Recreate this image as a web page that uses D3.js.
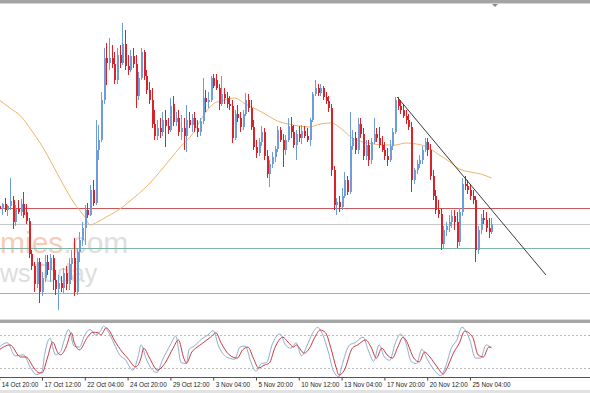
<!DOCTYPE html>
<html><head><meta charset="utf-8">
<script src="https://cdn.jsdelivr.net/npm/d3@7"></script>
<style>html,body{margin:0;padding:0;background:#fff;overflow:hidden}</style>
</head><body><svg id="c" width="590" height="393"></svg>
<script>
// ---- DATA (4H candles, bar index 0 = 14 Oct 20:00) ----
const open = [
1.1794,1.1791,1.1796,1.1790,1.1794,1.1800,1.1778,1.1791,1.1788,1.1796,
1.1788,1.1779,1.1746,1.1734,1.1716,1.1738,1.1708,1.1722,1.1738,1.1730,
1.1742,1.1720,1.1711,1.1717,1.1712,1.1727,1.1716,1.1736,1.1742,1.1708,
1.1748,1.1760,1.1772,1.1790,1.1785,1.1810,1.1797,1.1850,1.1860,1.1900,
1.1942,1.1937,1.1942,1.1936,1.1920,1.1945,1.1937,1.1956,1.1934,1.1930,
1.1944,1.1936,1.1904,1.1922,1.1948,1.1924,1.1910,1.1900,1.1876,1.1864,
1.1872,1.1868,1.1880,1.1874,1.1870,1.1896,1.1878,1.1882,1.1868,1.1872,
1.1864,1.1880,1.1875,1.1882,1.1872,1.1868,1.1879,1.1902,1.1898,1.1900,
1.1922,1.1920,1.1912,1.1896,1.1906,1.1902,1.1896,1.1894,1.1862,1.1886,
1.1882,1.1873,1.1886,1.1900,1.1892,1.1873,1.1853,1.1847,1.1858,1.1868,
1.1844,1.1826,1.1836,1.1843,1.1851,1.1870,1.1860,1.1850,1.1860,1.1874,
1.1868,1.1855,1.1866,1.1862,1.1869,1.1864,1.1860,1.1880,1.1906,1.1912,
1.1907,1.1912,1.1903,1.1899,1.1892,1.1830,1.1795,1.1798,1.1793,1.1804,
1.1820,1.1808,1.1854,1.1862,1.1850,1.1876,1.1866,1.1844,1.1855,1.1840,
1.1858,1.1866,1.1862,1.1855,1.1850,1.1844,1.1840,1.1854,1.1868,1.1900,
1.1894,1.1890,1.1884,1.1880,1.1873,1.1820,1.1830,1.1836,1.1840,1.1850,
1.1858,1.1850,1.1824,1.1804,1.1790,1.1786,1.1756,1.1770,1.1774,1.1778,
1.1784,1.1778,1.1758,1.1788,1.1816,1.1814,1.1810,1.1804,1.1800,1.1750,
1.1770,1.1782,1.1780,1.1772,1.1768];
const high = [
1.1800,1.1797,1.1802,1.1795,1.1822,1.1804,1.1795,1.1800,1.1801,1.1808,
1.1796,1.1782,1.1750,1.1738,1.1742,1.1742,1.1728,1.1745,1.1745,1.1746,
1.1745,1.1730,1.1725,1.1724,1.1732,1.1734,1.1742,1.1750,1.1762,1.1752,
1.1768,1.1778,1.1795,1.1797,1.1815,1.1820,1.1880,1.1875,1.1908,1.1952,
1.1957,1.1962,1.1955,1.1948,1.1952,1.1955,1.1977,1.1970,1.1945,1.1950,
1.1952,1.1945,1.1928,1.1952,1.1950,1.1930,1.1918,1.1912,1.1890,1.1880,
1.1882,1.1888,1.1890,1.1882,1.1902,1.1904,1.1888,1.1890,1.1885,1.1882,
1.1895,1.1888,1.1886,1.1888,1.1880,1.1882,1.1922,1.1910,1.1908,1.1924,
1.1926,1.1926,1.1916,1.1924,1.1912,1.1908,1.1904,1.1900,1.1890,1.1895,
1.1888,1.1890,1.1907,1.1906,1.1900,1.1880,1.1860,1.1862,1.1874,1.1872,
1.1850,1.1840,1.1848,1.1854,1.1874,1.1873,1.1866,1.1865,1.1882,1.1883,
1.1875,1.1870,1.1874,1.1875,1.1874,1.1872,1.1882,1.1908,1.1920,1.1916,
1.1916,1.1914,1.1908,1.1904,1.1896,1.1834,1.1802,1.1804,1.1812,1.1828,
1.1824,1.1888,1.1870,1.1868,1.1882,1.1882,1.1872,1.1860,1.1860,1.1862,
1.1882,1.1872,1.1873,1.1864,1.1858,1.1852,1.1860,1.1872,1.1903,1.1903,
1.1900,1.1896,1.1890,1.1886,1.1878,1.1832,1.1840,1.1845,1.1854,1.1862,
1.1862,1.1856,1.1830,1.1810,1.1800,1.1792,1.1774,1.1778,1.1785,1.1790,
1.1790,1.1788,1.1792,1.1822,1.1824,1.1820,1.1816,1.1810,1.1804,1.1774,
1.1786,1.1790,1.1788,1.1782,1.1782];
const low = [
1.1786,1.1785,1.1788,1.1784,1.1790,1.1771,1.1774,1.1786,1.1784,1.1782,
1.1776,1.1742,1.1730,1.1708,1.1712,1.1697,1.1704,1.1718,1.1725,1.1718,
1.1710,1.1705,1.1690,1.1708,1.1707,1.1710,1.1710,1.1720,1.1704,1.1705,
1.1738,1.1754,1.1755,1.1782,1.1784,1.1794,1.1795,1.1840,1.1858,1.1896,
1.1915,1.1930,1.1932,1.1916,1.1916,1.1932,1.1935,1.1930,1.1925,1.1928,
1.1932,1.1892,1.1900,1.1920,1.1920,1.1906,1.1896,1.1872,1.1860,1.1860,
1.1862,1.1864,1.1853,1.1866,1.1868,1.1874,1.1874,1.1864,1.1860,1.1850,
1.1848,1.1872,1.1868,1.1868,1.1863,1.1864,1.1876,1.1888,1.1892,1.1898,
1.1912,1.1910,1.1890,1.1894,1.1896,1.1892,1.1890,1.1857,1.1860,1.1878,
1.1868,1.1870,1.1884,1.1888,1.1870,1.1850,1.1842,1.1844,1.1854,1.1840,
1.1822,1.1813,1.1832,1.1838,1.1848,1.1858,1.1833,1.1845,1.1858,1.1862,
1.1852,1.1840,1.1858,1.1856,1.1862,1.1858,1.1854,1.1878,1.1904,1.1904,
1.1904,1.1900,1.1896,1.1888,1.1824,1.1790,1.1785,1.1788,1.1790,1.1802,
1.1805,1.1806,1.1850,1.1846,1.1846,1.1862,1.1840,1.1840,1.1834,1.1836,
1.1856,1.1858,1.1852,1.1848,1.1840,1.1834,1.1838,1.1850,1.1866,1.1890,
1.1886,1.1882,1.1876,1.1870,1.1808,1.1816,1.1826,1.1832,1.1836,1.1848,
1.1844,1.1820,1.1800,1.1786,1.1782,1.1750,1.1752,1.1764,1.1768,1.1772,
1.1770,1.1752,1.1754,1.1784,1.1810,1.1806,1.1800,1.1796,1.1738,1.1746,
1.1766,1.1776,1.1768,1.1762,1.1766];
const close = [
1.1791,1.1796,1.1790,1.1794,1.1799,1.1778,1.1791,1.1788,1.1796,1.1785,
1.1779,1.1746,1.1734,1.1716,1.1738,1.1708,1.1722,1.1738,1.1730,1.1742,
1.1720,1.1711,1.1717,1.1712,1.1727,1.1716,1.1736,1.1742,1.1708,1.1748,
1.1760,1.1772,1.1790,1.1785,1.1810,1.1797,1.1850,1.1860,1.1900,1.1942,
1.1937,1.1942,1.1936,1.1920,1.1945,1.1937,1.1956,1.1934,1.1930,1.1944,
1.1936,1.1904,1.1922,1.1948,1.1924,1.1910,1.1900,1.1876,1.1864,1.1872,
1.1868,1.1880,1.1874,1.1870,1.1894,1.1878,1.1882,1.1868,1.1872,1.1864,
1.1880,1.1875,1.1882,1.1872,1.1868,1.1879,1.1902,1.1898,1.1900,1.1922,
1.1914,1.1912,1.1896,1.1906,1.1902,1.1896,1.1894,1.1862,1.1886,1.1882,
1.1873,1.1886,1.1900,1.1892,1.1873,1.1853,1.1847,1.1858,1.1868,1.1844,
1.1826,1.1836,1.1843,1.1851,1.1870,1.1860,1.1850,1.1860,1.1874,1.1868,
1.1855,1.1866,1.1862,1.1869,1.1864,1.1860,1.1880,1.1906,1.1912,1.1907,
1.1912,1.1903,1.1899,1.1892,1.1830,1.1795,1.1798,1.1793,1.1804,1.1820,
1.1808,1.1854,1.1862,1.1850,1.1876,1.1866,1.1844,1.1855,1.1840,1.1858,
1.1866,1.1862,1.1855,1.1850,1.1844,1.1840,1.1854,1.1868,1.1900,1.1894,
1.1890,1.1884,1.1880,1.1873,1.1820,1.1830,1.1836,1.1840,1.1850,1.1858,
1.1850,1.1824,1.1804,1.1790,1.1786,1.1756,1.1770,1.1774,1.1778,1.1784,
1.1778,1.1758,1.1788,1.1816,1.1814,1.1810,1.1804,1.1800,1.1750,1.1770,
1.1782,1.1780,1.1772,1.1768,1.1776];

// moving average (bar index, value)
const maBar = [0,4,8,12,16,20,24,28,32,34,36,40,44,48,52,56,60,64,68,72,76,80,84,88,92,96,100,104,108,112,116,120,124,128,132,136,140,144,148,152,156,160,164,168,172,176,180,184];
const maVal = [1.1900,1.1892,1.1884,1.1870,1.1854,1.1835,1.1815,1.1797,1.1783,1.1775,1.1777,1.1783,1.1789,1.1797,1.1806,1.1816,1.1828,1.1841,1.1854,1.1865,1.1883,1.1896,1.1900,1.1902,1.1896,1.1891,1.1885,1.1879,1.1876,1.1874,1.1873,1.1876,1.1877,1.1871,1.1862,1.1858,1.1856,1.1855,1.1855,1.1857,1.1856,1.1853,1.1846,1.1839,1.1831,1.1828,1.1826,1.1822];

// horizontal levels and trend line
const levels = [1.1792, 1.1776, 1.1752, 1.1707];
const trendBar = [148.8, 204.4];
const trendVal = [1.1903, 1.1725];

// stochastic oscillator (%K main, %D signal)
const kBar = [0,3,6,9,12,14,16,17,19,21,23,24,26,28,30,32,34,36,38,39,41,43,45,47,50,52,53,55,57,59,61,64,66,68,70,71,73,75,78,80,82,85,88,90,92,94,96,98,100,102,105,107,109,111,113,115,117,119,121,123,125,127,128,131,133,136,138,140,142,144,146,148,150,152,154,156,158,160,163,165,167,169,171,173,176,178,180,182,184];
const kVal = [58,66,42,44,18,8,14,45,74,44,50,66,90,60,58,80,90,80,88,96,84,64,44,36,16,42,62,36,18,12,34,62,78,30,28,54,60,70,80,88,60,40,36,58,60,32,14,28,30,62,82,62,56,66,42,60,82,94,80,50,14,4,22,62,66,76,52,32,62,40,34,64,82,66,32,28,54,36,14,6,24,56,70,94,70,38,38,62,56];
const dBar = [0,4,8,10,13,15,16,18,20,22,23,25,27,28,30,33,35,37,38,40,41,43,46,48,51,53,54,56,58,59,62,65,67,69,70,72,74,76,79,81,83,86,89,91,93,95,97,99,101,103,106,108,110,111,114,116,118,120,122,124,126,127,129,132,134,137,139,141,143,145,147,149,151,152,155,157,159,161,164,166,167,170,172,174,177,179,181,183,184];
const dVal = [53,62,40,40,20,11,11,38,67,47,44,58,84,67,53,76,85,84,80,93,89,71,49,38,22,38,56,40,22,16,29,56,71,38,29,49,58,65,76,84,65,44,38,53,58,38,20,25,29,56,76,67,58,62,47,56,76,89,84,56,20,7,16,56,62,71,58,38,56,44,38,58,76,71,38,31,49,40,20,9,16,49,65,87,76,44,40,58,58];
const stochLevels = [80, 20];

// time axis
const tickBars = [0,16,32,48,64,80,96,112,128,144,160,176];
const tickLabels = ["14 Oct 20:00","17 Oct 12:00","22 Oct 04:00","24 Oct 20:00","29 Oct 12:00","3 Nov 04:00","5 Nov 20:00","10 Nov 12:00","13 Nov 04:00","17 Nov 20:00","20 Nov 12:00","25 Nov 04:00"];

// ---- DRAW ----
const W = 590, H = 393;
const svg = d3.select('#c');
const x = d3.scaleLinear().domain([0, 184]).range([-0.8, 491.4]);
const y = d3.scaleLinear().domain([1.1680, 1.2000]).range([320, 0]);
const ys = d3.scaleLinear().domain([0, 100]).range([379, 324]);

svg.append('rect').attr('width', W).attr('height', H).attr('fill', '#fff');

const defs = svg.append('defs');
defs.append('clipPath').attr('id', 'mainClip').append('rect').attr('x', 0).attr('y', 4).attr('width', W).attr('height', 316);
defs.append('clipPath').attr('id', 'subClip').append('rect').attr('x', 0).attr('y', 323).attr('width', W).attr('height', 54);

// top band
svg.append('rect').attr('x', 0).attr('y', 0).attr('width', W).attr('height', 3).attr('fill', '#a4a4a4');
svg.append('line').attr('x1', 0).attr('x2', W).attr('y1', 3.5).attr('y2', 3.5).attr('stroke', '#d4d4d4');
svg.append('path').attr('d', 'M492,4 L498,4 L495,7 Z').attr('fill', '#8a8a8a');

const main = svg.append('g').attr('clip-path', 'url(#mainClip)');

// watermark
const wm1 = main.append('text').attr('x', 0).attr('y', 253)
  .attr('font-family', 'Liberation Sans, Arial, sans-serif').attr('font-size', 30).attr('opacity', 0.55);
wm1.append('tspan').attr('fill', '#f4a27e').text('mies');
wm1.append('tspan').attr('fill', '#c4c4c4').text('.com');
main.append('text').attr('x', 0).attr('y', 282)
  .attr('font-family', 'Liberation Sans, Arial, sans-serif').attr('font-size', 25)
  .attr('fill', '#bdbdbd').attr('opacity', 0.5).text('wsToday');

// horizontal levels
const levelColors = ['#c8585c', '#c9c9c9', '#7fb4a4', '#86c0b4'];
main.selectAll('line.lvl').data(levels).join('line').attr('class', 'lvl')
  .attr('x1', 0).attr('x2', W)
  .attr('y1', d => Math.round(y(d)) + 0.5).attr('y2', d => Math.round(y(d)) + 0.5)
  .attr('stroke', (d, i) => levelColors[i]).attr('stroke-width', 1);

// MA
const maPts = maBar.map((b, i) => [b, maVal[i]]);
main.append('path').datum(maPts)
  .attr('d', d3.line().x(d => x(d[0])).y(d => y(d[1])).curve(d3.curveMonotoneX))
  .attr('fill', 'none').attr('stroke', '#f0b46a').attr('stroke-width', 1);

// candles
const bull = '#6d9edb', bear = '#d8232a';
const idx = d3.range(open.length);
const cg = main.append('g').attr('shape-rendering', 'crispEdges');
cg.selectAll('line.w').data(idx).join('line').attr('class', 'w')
  .attr('x1', i => Math.round(x(i)) + 0.5).attr('x2', i => Math.round(x(i)) + 0.5)
  .attr('y1', i => y(high[i])).attr('y2', i => y(low[i]))
  .attr('stroke', i => close[i] >= open[i] ? bull : bear).attr('stroke-width', 1);
cg.selectAll('rect.b').data(idx).join('rect').attr('class', 'b')
  .attr('x', i => Math.round(x(i)))
  .attr('width', 2)
  .attr('y', i => y(Math.max(open[i], close[i])))
  .attr('height', i => Math.max(1, Math.abs(y(open[i]) - y(close[i]))))
  .attr('fill', i => close[i] >= open[i] ? bull : bear);

// trend line
main.append('line')
  .attr('x1', x(trendBar[0])).attr('y1', y(trendVal[0]))
  .attr('x2', x(trendBar[1])).attr('y2', y(trendVal[1]))
  .attr('stroke', '#3a3a3a').attr('stroke-width', 1);

// separator
svg.append('rect').attr('x', 0).attr('y', 320).attr('width', W).attr('height', 3).attr('fill', '#a6a6a6');
svg.append('line').attr('x1', 0).attr('x2', W).attr('y1', 319.5).attr('y2', 319.5).attr('stroke', '#dadada');

// stochastic panel
const sub = svg.append('g').attr('clip-path', 'url(#subClip)');
sub.selectAll('line.sl').data(stochLevels).join('line').attr('class', 'sl')
  .attr('x1', 0).attr('x2', W)
  .attr('y1', d => Math.round(ys(d)) + 0.5).attr('y2', d => Math.round(ys(d)) + 0.5)
  .attr('stroke', '#bcbcbc').attr('stroke-dasharray', '2,2');
const sline = d3.line().x(d => x(d[0])).y(d => ys(d[1])).curve(d3.curveMonotoneX);
sub.append('path').datum(kBar.map((b, i) => [b, kVal[i]]))
  .attr('d', sline).attr('fill', 'none').attr('stroke', '#90acd0').attr('stroke-width', 1);
sub.append('path').datum(dBar.map((b, i) => [b, dVal[i]]))
  .attr('d', sline).attr('fill', 'none').attr('stroke', '#c83a40').attr('stroke-width', 1);

// time axis
svg.append('line').attr('x1', 0).attr('x2', W).attr('y1', 377.5).attr('y2', 377.5).attr('stroke', '#555');
const ax = svg.append('g').attr('transform', 'translate(0,377.5)')
  .call(d3.axisBottom(x).tickValues(tickBars).tickFormat((d, i) => tickLabels[i]).tickSize(3).tickSizeOuter(0));
ax.select('.domain').remove();
ax.selectAll('.tick line').attr('stroke', '#444');
ax.selectAll('.tick text')
  .attr('text-anchor', 'start').attr('x', 2).attr('y', 9.5).attr('dy', 0)
  .attr('font-family', 'Liberation Sans, Arial, sans-serif').attr('font-size', 6.4).attr('fill', '#222');

// bottom strip
svg.append('rect').attr('x', 0).attr('y', 390).attr('width', W).attr('height', 3).attr('fill', '#e2e2e2');
</script>
</body></html>
